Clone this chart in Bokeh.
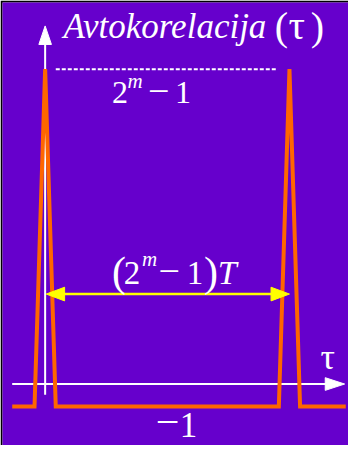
from bokeh.plotting import figure
from bokeh.models import Range1d
from bokeh.core.properties import value
from bokeh.embed import file_html
from bokeh.resources import INLINE

# ---- data ----
tau = [-3.1, -1.0, 0.0, 1.0, 22.0, 23.0, 24.0, 28.3]      # in units of T
acf = [-1, -1, 14, -1, -1, 14, -1, -1]                    # autocorrelation value
peak_value = 14
period = 23                                               # (2^m - 1) T
dash_start, dash_end = 1.0, 21.8
arrow_level = 4.0

title_word = "Avtokorelacija"
tau_sym = "τ"

# ---- layout helpers (reference pixels -> data) ----
XPX, YPX = 10.96, 23.05      # pixels per unit
X0, Y0 = 51, 398             # pixel location of the origin
def sx(px): return (px - X0) / XPX
def sy(py): return (Y0 - py) / YPX

W, H = 348, 445
p = figure(width=W, height=H, output_backend="svg", toolbar_location=None,
           x_range=Range1d(sx(7), sx(364)), y_range=Range1d(sy(461), sy(7)),
           x_axis_location=None, y_axis_location=None,
           min_border_left=2, min_border_top=2, min_border_right=0, min_border_bottom=0,
           border_fill_color="black", background_fill_color="#6600CC",
           outline_line_color=None)
p.grid.visible = False

WHITE = "white"
YELLOW = "#FFFF00"
ORANGE = "#FF6600"

# vertical axis
v_tip, v_base, v_half = sy(31), sy(50), 6.5 / XPX
p.line([0, 0], [sy(409), v_base + 0.1], line_color=WHITE, line_width=2)
p.patch([-v_half, 0, v_half], [v_base, v_tip, v_base], fill_color=WHITE, line_color=WHITE)

# horizontal axis
h_tip, h_base, h_half = sx(360), sx(340), 6.5 / YPX
p.line([sx(17), h_base + 0.1], [0, 0], line_color=WHITE, line_width=2)
p.patch([h_base, h_tip, h_base], [-h_half, 0, h_half], fill_color=WHITE, line_color=WHITE)

# autocorrelation curve
p.line(tau, acf, line_color=ORANGE, line_width=4, line_join="miter")

# dashed peak level
p.line([dash_start, dash_end], [peak_value, peak_value], line_color=WHITE,
       line_width=2, line_dash="4 2")

# yellow double arrow (period)
a_len, a_half = 19 / XPX, 7 / YPX
x_l, x_r = 0.1, period
p.line([x_l + a_len - 0.1, x_r - a_len + 0.1], [arrow_level, arrow_level],
       line_color=YELLOW, line_width=2.5)
p.patch([x_l, x_l + a_len, x_l + a_len], [arrow_level, arrow_level + a_half, arrow_level - a_half],
        fill_color=YELLOW, line_color=YELLOW)
p.patch([x_r, x_r - a_len, x_r - a_len], [arrow_level, arrow_level + a_half, arrow_level - a_half],
        fill_color=YELLOW, line_color=YELLOW)

SERIF = "Liberation Serif"
SHIFT = 0.34
def lab(text, px, py, size, style="normal"):
    p.text(x=[sx(px)], y=[sy(py - SHIFT * size)], text=[text], text_font=value(SERIF),
           text_font_size=f"{size}px", text_font_style=style,
           text_color=WHITE, text_align="left", text_baseline="alphabetic")

# title
lab(title_word, 70, 44, 35, "italic")
lab("(", 288, 45, 40)
lab(tau_sym, 302, 44, 41)
lab(")", 325, 45, 40)

# 2^m - 1
lab("2", 120, 110, 32)
lab("m", 136, 95, 21, "italic")
lab("−", 157, 111, 38)
lab("1", 185, 110, 32)

# (2^m - 1) T
lab("(", 120, 297, 42)
lab("2", 132, 295, 33)
lab("m", 151, 277, 21, "italic")
lab("−", 168, 296, 38)
lab("1", 197, 295, 33)
lab(")", 215, 297, 42)
lab("T", 229, 295, 34, "italic")

# tau on x axis
lab(tau_sym, 335, 383, 36)

# -1
lab("−", 165, 451, 42)
lab("1", 190, 452, 35)

open("out.html", "w").write(file_html(p, INLINE))
